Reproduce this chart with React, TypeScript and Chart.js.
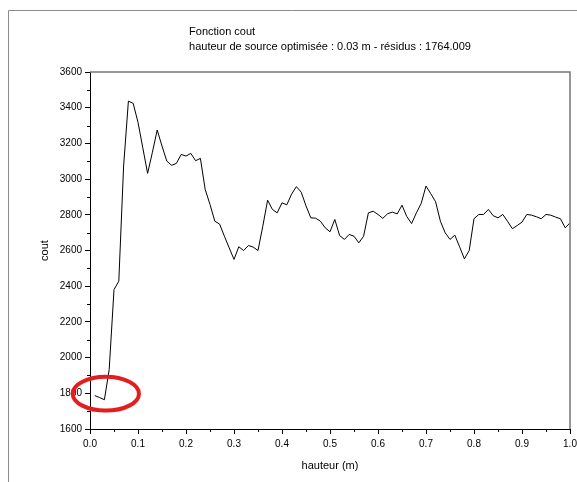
import { useEffect, useRef } from 'react';
import { Chart, registerables } from 'chart.js';

Chart.register(...registerables);

// Source heights (m) and the cost computed at each one
const hauteur = [
  0.01, 0.02, 0.03, 0.04, 0.05, 0.06, 0.07, 0.08, 0.09, 0.1,
  0.11, 0.12, 0.13, 0.14, 0.15, 0.16, 0.17, 0.18, 0.19, 0.2,
  0.21, 0.22, 0.23, 0.24, 0.25, 0.26, 0.27, 0.28, 0.29, 0.3,
  0.31, 0.32, 0.33, 0.34, 0.35, 0.36, 0.37, 0.38, 0.39, 0.4,
  0.41, 0.42, 0.43, 0.44, 0.45, 0.46, 0.47, 0.48, 0.49, 0.5,
  0.51, 0.52, 0.53, 0.54, 0.55, 0.56, 0.57, 0.58, 0.59, 0.6,
  0.61, 0.62, 0.63, 0.64, 0.65, 0.66, 0.67, 0.68, 0.69, 0.7,
  0.71, 0.72, 0.73, 0.74, 0.75, 0.76, 0.77, 0.78, 0.79, 0.8,
  0.81, 0.82, 0.83, 0.84, 0.85, 0.86, 0.87, 0.88, 0.89, 0.9,
  0.91, 0.92, 0.93, 0.94, 0.95, 0.96, 0.97, 0.98, 0.99, 1.0,
];

const cout = [
  1787, 1776, 1764, 1933, 2381, 2428, 3073, 3437, 3424, 3318,
  3175, 3032, 3150, 3275, 3185, 3101, 3077, 3088, 3138, 3129,
  3144, 3103, 3116, 2942, 2858, 2764, 2748, 2680, 2615, 2550,
  2621, 2600, 2628, 2619, 2600, 2736, 2882, 2830, 2811, 2867,
  2856, 2916, 2958, 2927, 2850, 2783, 2781, 2764, 2727, 2705,
  2774, 2684, 2662, 2690, 2680, 2643, 2680, 2811, 2820, 2802,
  2780, 2806, 2815, 2805, 2854, 2790, 2751, 2811, 2864, 2961,
  2918, 2873, 2764, 2699, 2662, 2686, 2621, 2553, 2600, 2778,
  2802, 2802, 2830, 2795, 2783, 2802, 2763, 2722, 2740, 2759,
  2802, 2798, 2789, 2778, 2802, 2798, 2787, 2778, 2727, 2755,
];

// Minor tick positions between the labelled ticks
const xMinor = [0.05, 0.15, 0.25, 0.35, 0.45, 0.55, 0.65, 0.75, 0.85, 0.95];
const yMinor = [1700, 1900, 2100, 2300, 2500, 2700, 2900, 3100, 3300, 3500];

const titre = [
  'Fonction cout',
  'hauteur de source optimisée : 0.03 m - résidus : 1764.009',
];

// Red ring highlighting the optimum (centre and half-axes in data units)
const optimum = { x: 0.033, y: 1798, rx: 0.069, ry: 95 };

const FONT = "'Liberation Sans', Arial, Helvetica, sans-serif";

const decor = {
  id: 'decor',
  beforeDraw(chart: any) {
    const { ctx, width, height } = chart;
    ctx.save();
    ctx.fillStyle = '#ffffff';
    ctx.fillRect(0, 0, width, height);
    // window frame
    ctx.strokeStyle = '#8c8c8c';
    ctx.lineWidth = 1;
    ctx.beginPath();
    ctx.moveTo(8.5, height);
    ctx.lineTo(8.5, 10.5);
    ctx.lineTo(width, 10.5);
    ctx.stroke();
    ctx.restore();
  },
  afterDraw(chart: any) {
    const { ctx, chartArea: a, scales } = chart;
    const xs = scales.x;
    const ys = scales.y;
    ctx.save();

    // upper and right edges of the axes box
    ctx.strokeStyle = '#777777';
    ctx.lineWidth = 1.5;
    ctx.beginPath();
    ctx.moveTo(a.left, a.top);
    ctx.lineTo(a.right, a.top);
    ctx.lineTo(a.right, a.bottom);
    ctx.stroke();

    // minor ticks
    ctx.strokeStyle = '#000000';
    ctx.lineWidth = 1;
    ctx.beginPath();
    for (const v of xMinor) {
      const px = Math.round(xs.getPixelForValue(v)) + 0.5;
      ctx.moveTo(px, a.bottom);
      ctx.lineTo(px, a.bottom + 3);
    }
    for (const v of yMinor) {
      const py = Math.round(ys.getPixelForValue(v)) + 0.5;
      ctx.moveTo(a.left, py);
      ctx.lineTo(a.left - 3, py);
    }
    ctx.stroke();

    // title block: lines left-aligned, second line centred on the plot
    ctx.font = `11px ${FONT}`;
    ctx.fillStyle = '#000000';
    ctx.textBaseline = 'middle';
    ctx.textAlign = 'left';
    const w = ctx.measureText(titre[1]).width;
    const tx = (a.left + a.right) / 2 - w / 2;
    ctx.fillText(titre[0], tx, a.top - 40);
    ctx.fillText(titre[1], tx, a.top - 25);

    // ring around the optimum
    const cx = xs.getPixelForValue(optimum.x);
    const cy = ys.getPixelForValue(optimum.y);
    const rx = xs.getPixelForValue(optimum.x + optimum.rx) - cx;
    const ry = cy - ys.getPixelForValue(optimum.y + optimum.ry);
    ctx.strokeStyle = '#e41e1e';
    ctx.lineWidth = 4;
    ctx.beginPath();
    ctx.ellipse(cx, cy, rx, ry, 0, 0, Math.PI * 2);
    ctx.stroke();

    ctx.restore();
  },
};

export default function App() {
  const ref = useRef<HTMLCanvasElement>(null);

  useEffect(() => {
    const canvas = ref.current;
    if (!canvas) return;
    const chart = new Chart(canvas, {
      type: 'line',
      data: {
        datasets: [
          {
            data: hauteur.map((h, i) => ({ x: h, y: cout[i] })),
            borderColor: '#000000',
            borderWidth: 1,
            pointRadius: 0,
            tension: 0,
            fill: false,
          },
        ],
      },
      options: {
        responsive: false,
        animation: false,
        layout: { padding: { left: 0, top: 72, right: 7, bottom: 0 } },
        plugins: {
          legend: { display: false },
          tooltip: { enabled: false },
          title: { display: false },
        },
        scales: {
          x: {
            type: 'linear',
            min: 0,
            max: 1,
            ticks: {
              stepSize: 0.1,
              autoSkip: false,
              maxRotation: 0,
              padding: 4,
              color: '#000000',
              font: { family: FONT, size: 10 },
              callback: (v: any) => Number(v).toFixed(1),
            },
            grid: {
              drawOnChartArea: false,
              drawTicks: true,
              tickLength: 5,
              tickColor: '#000000',
            },
            border: { display: true, color: '#000000', width: 1 },
            title: {
              display: true,
              text: 'hauteur (m)',
              color: '#000000',
              font: { family: FONT, size: 11 },
              padding: { top: 0, bottom: 9 },
            },
            afterFit: (s: any) => {
              s.height = 53;
              s.paddingLeft = 0;
              s.paddingRight = 0;
            },
          },
          y: {
            type: 'linear',
            min: 1600,
            max: 3600,
            ticks: {
              stepSize: 200,
              padding: 3,
              color: '#000000',
              font: { family: FONT, size: 10 },
              callback: (v: any) => String(v),
            },
            grid: {
              drawOnChartArea: false,
              drawTicks: true,
              tickLength: 5,
              tickColor: '#000000',
            },
            border: { display: true, color: '#000000', width: 1 },
            title: {
              display: true,
              text: 'cout',
              color: '#000000',
              font: { family: FONT, size: 11 },
              padding: { top: 38, bottom: 0 },
            },
            afterFit: (s: any) => {
              s.width = 90;
              s.paddingTop = 0;
              s.paddingBottom = 0;
            },
          },
        },
      },
      plugins: [decor],
    } as any);
    return () => chart.destroy();
  }, []);

  return (
    <div
      style={{
        position: 'absolute',
        left: 0,
        top: 0,
        width: 577,
        height: 482,
        background: '#ffffff',
      }}
    >
      <canvas ref={ref} width={577} height={482} style={{ display: 'block' }} />
    </div>
  );
}
